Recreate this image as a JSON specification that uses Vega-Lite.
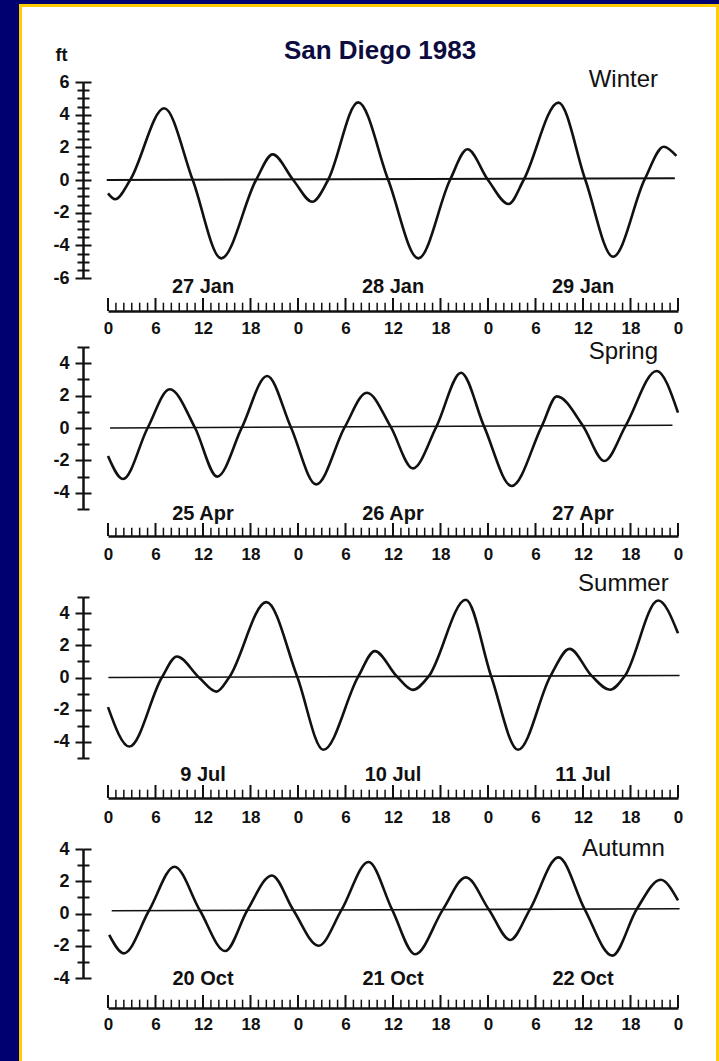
{
"$schema": "https://vega.github.io/schema/vega-lite/v6.json",
"background": "#000070",
"padding": {"left": 19, "top": 3, "right": 0, "bottom": 0},
"autosize": {"type": "pad"},
"bounds": "flush",
"spacing": 30,
"config": {"font": "Liberation Sans", "view": {"stroke": null}, "axis": {"grid": false}},
"datasets": {
"hours": [{"h":0,"tick":"major"},{"h":1,"tick":"minor"},{"h":2,"tick":"minor"},{"h":3,"tick":"minor"},{"h":4,"tick":"minor"},{"h":5,"tick":"minor"},{"h":6,"tick":"major"},{"h":7,"tick":"minor"},{"h":8,"tick":"minor"},{"h":9,"tick":"minor"},{"h":10,"tick":"minor"},{"h":11,"tick":"minor"},{"h":12,"tick":"major"},{"h":13,"tick":"minor"},{"h":14,"tick":"minor"},{"h":15,"tick":"minor"},{"h":16,"tick":"minor"},{"h":17,"tick":"minor"},{"h":18,"tick":"major"},{"h":19,"tick":"minor"},{"h":20,"tick":"minor"},{"h":21,"tick":"minor"},{"h":22,"tick":"minor"},{"h":23,"tick":"minor"},{"h":24,"tick":"major"},{"h":25,"tick":"minor"},{"h":26,"tick":"minor"},{"h":27,"tick":"minor"},{"h":28,"tick":"minor"},{"h":29,"tick":"minor"},{"h":30,"tick":"major"},{"h":31,"tick":"minor"},{"h":32,"tick":"minor"},{"h":33,"tick":"minor"},{"h":34,"tick":"minor"},{"h":35,"tick":"minor"},{"h":36,"tick":"major"},{"h":37,"tick":"minor"},{"h":38,"tick":"minor"},{"h":39,"tick":"minor"},{"h":40,"tick":"minor"},{"h":41,"tick":"minor"},{"h":42,"tick":"major"},{"h":43,"tick":"minor"},{"h":44,"tick":"minor"},{"h":45,"tick":"minor"},{"h":46,"tick":"minor"},{"h":47,"tick":"minor"},{"h":48,"tick":"major"},{"h":49,"tick":"minor"},{"h":50,"tick":"minor"},{"h":51,"tick":"minor"},{"h":52,"tick":"minor"},{"h":53,"tick":"minor"},{"h":54,"tick":"major"},{"h":55,"tick":"minor"},{"h":56,"tick":"minor"},{"h":57,"tick":"minor"},{"h":58,"tick":"minor"},{"h":59,"tick":"minor"},{"h":60,"tick":"major"},{"h":61,"tick":"minor"},{"h":62,"tick":"minor"},{"h":63,"tick":"minor"},{"h":64,"tick":"minor"},{"h":65,"tick":"minor"},{"h":66,"tick":"major"},{"h":67,"tick":"minor"},{"h":68,"tick":"minor"},{"h":69,"tick":"minor"},{"h":70,"tick":"minor"},{"h":71,"tick":"minor"},{"h":72,"tick":"major"}],
"days": [{"s":"W","h":12,"label":"27 Jan"},{"s":"W","h":36,"label":"28 Jan"},{"s":"W","h":60,"label":"29 Jan"},{"s":"Sp","h":12,"label":"25 Apr"},{"s":"Sp","h":36,"label":"26 Apr"},{"s":"Sp","h":60,"label":"27 Apr"},{"s":"Su","h":12,"label":"9 Jul"},{"s":"Su","h":36,"label":"10 Jul"},{"s":"Su","h":60,"label":"11 Jul"},{"s":"A","h":12,"label":"20 Oct"},{"s":"A","h":36,"label":"21 Oct"},{"s":"A","h":60,"label":"22 Oct"}],
"msl": [{"s":"W","h":-0.16,"v":0},{"s":"W","h":71.6,"v":0.1},{"s":"Sp","h":0.25,"v":0},{"s":"Sp","h":71.3,"v":0.17},{"s":"Su","h":0.05,"v":0},{"s":"Su","h":72.2,"v":0.12},{"s":"A","h":0.47,"v":0.17},{"s":"A","h":72.2,"v":0.29}],
"winter": [{"h":0,"v":-0.82},{"h":0.9,"v":-1.18},{"h":2.8,"v":0},{"h":7.1,"v":4.39},{"h":10.7,"v":0},{"h":14.3,"v":-4.8},{"h":18.7,"v":0},{"h":20.8,"v":1.57},{"h":23.4,"v":0},{"h":25.8,"v":-1.33},{"h":27.8,"v":0},{"h":31.6,"v":4.75},{"h":35.4,"v":0},{"h":39.2,"v":-4.8},{"h":43.2,"v":0},{"h":45.4,"v":1.88},{"h":48.0,"v":0},{"h":50.6,"v":-1.47},{"h":52.5,"v":0},{"h":56.9,"v":4.74},{"h":60.3,"v":0},{"h":63.8,"v":-4.7},{"h":67.8,"v":0.05},{"h":70.2,"v":2.04},{"h":71.8,"v":1.47}],
"spring": [{"h":0,"v":-1.73},{"h":1.9,"v":-3.15},{"h":5.0,"v":0},{"h":7.8,"v":2.39},{"h":11.0,"v":0},{"h":13.8,"v":-3.0},{"h":16.9,"v":0.02},{"h":20.1,"v":3.21},{"h":23.1,"v":0.05},{"h":26.3,"v":-3.48},{"h":29.9,"v":0.05},{"h":32.7,"v":2.18},{"h":35.7,"v":0.08},{"h":38.5,"v":-2.49},{"h":41.5,"v":0.1},{"h":44.6,"v":3.41},{"h":47.5,"v":0.1},{"h":51.0,"v":-3.58},{"h":54.8,"v":0.12},{"h":56.7,"v":1.95},{"h":60.0,"v":0.13},{"h":62.7,"v":-2.04},{"h":65.4,"v":0.15},{"h":69.3,"v":3.52},{"h":72,"v":0.95}],
"summer": [{"h":0,"v":-1.84},{"h":2.7,"v":-4.29},{"h":6.8,"v":0},{"h":8.7,"v":1.3},{"h":11.5,"v":0},{"h":13.7,"v":-0.88},{"h":15.3,"v":0},{"h":20.0,"v":4.68},{"h":23.9,"v":0.05},{"h":27.2,"v":-4.49},{"h":31.6,"v":0.05},{"h":33.7,"v":1.64},{"h":36.5,"v":0.06},{"h":38.5,"v":-0.77},{"h":40.5,"v":0.07},{"h":45.2,"v":4.83},{"h":48.4,"v":0.08},{"h":51.8,"v":-4.49},{"h":55.9,"v":0.1},{"h":58.3,"v":1.78},{"h":61.1,"v":0.1},{"h":63.4,"v":-0.76},{"h":65.3,"v":0.11},{"h":69.5,"v":4.78},{"h":72,"v":2.75}],
"autumn": [{"h":0.15,"v":-1.33},{"h":2.0,"v":-2.47},{"h":5.2,"v":0.2},{"h":8.4,"v":2.9},{"h":11.6,"v":0.2},{"h":14.8,"v":-2.33},{"h":17.6,"v":0.2},{"h":20.7,"v":2.36},{"h":23.4,"v":0.22},{"h":26.6,"v":-2.0},{"h":29.5,"v":0.22},{"h":32.9,"v":3.19},{"h":35.9,"v":0.23},{"h":38.8,"v":-2.53},{"h":42.3,"v":0.24},{"h":45.2,"v":2.24},{"h":48.1,"v":0.25},{"h":50.8,"v":-1.64},{"h":53.3,"v":0.26},{"h":56.9,"v":3.48},{"h":60.2,"v":0.27},{"h":63.7,"v":-2.61},{"h":66.8,"v":0.28},{"h":69.8,"v":2.09},{"h":72,"v":0.82}]
},
"vconcat": [
{
 "width": 570, "height": 229,
 "resolve": {"scale": {"y": "independent"}},
 "layer": [
  {
   "resolve": {"axis": {"y": "independent"}},
   "layer": [
    {"data": {"values": [{}]}, "mark": {"type": "rect", "color": "#ffcc00"},
     "encoding": {"x": {"datum": -11.242, "type": "quantitative", "scale": {"domain": [0,72], "nice": false, "zero": false}, "axis": {"orient": "bottom", "values": [0,6,12,18,24,30,36,42,48,54,60,66,72], "labelExpr": "'' + (datum.value % 24)", "labelFlush": false, "labelOverlap": false, "labelFontSize": 17, "labelFontWeight": "bold", "labelColor": "#111111", "labelBaseline": "top", "labelPadding": 9, "ticks": false, "tickSize": 0, "domain": true, "domainColor": "#111111", "domainWidth": 2.5, "title": null, "zindex": 1}}, "x2": {"datum": 77.18},
                  "y": {"datum": 10.776, "type": "quantitative", "scale": {"domain": [-6,6], "range": [196,0], "nice": false, "zero": false}, "axis": null}, "y2": {"datum": -54.0}}},
    {"data": {"values": [{}]}, "mark": {"type": "rect", "color": "#ffffff"},
     "encoding": {"x": {"datum": -10.863, "type": "quantitative", "scale": {"domain": [0,72], "nice": false, "zero": false}, "axis": {"orient": "bottom", "values": [0,6,12,18,24,30,36,42,48,54,60,66,72], "labelExpr": "'' + (datum.value % 24)", "labelFlush": false, "labelOverlap": false, "labelFontSize": 17, "labelFontWeight": "bold", "labelColor": "#111111", "labelBaseline": "top", "labelPadding": 9, "ticks": false, "tickSize": 0, "domain": true, "domainColor": "#111111", "domainWidth": 2.5, "title": null, "zindex": 1}}, "x2": {"datum": 76.80},
                  "y": {"datum": 10.592, "type": "quantitative", "scale": {"domain": [-6,6], "range": [196,0], "nice": false, "zero": false}, "axis": null}, "y2": {"datum": -54.0}}},
    {"data": {"values": [{"t": "San Diego 1983"}]}, "mark": {"type": "text", "fontSize": 26, "fontWeight": "bold", "color": "#0c0c40"},
     "encoding": {"text": {"field": "t", "type": "nominal"},
                  "x": {"datum": 34.36, "type": "quantitative", "scale": {"domain": [0,72], "nice": false, "zero": false}, "axis": {"orient": "bottom", "values": [0,6,12,18,24,30,36,42,48,54,60,66,72], "labelExpr": "'' + (datum.value % 24)", "labelFlush": false, "labelOverlap": false, "labelFontSize": 17, "labelFontWeight": "bold", "labelColor": "#111111", "labelBaseline": "top", "labelPadding": 9, "ticks": false, "tickSize": 0, "domain": true, "domainColor": "#111111", "domainWidth": 2.5, "title": null, "zindex": 1}},
                  "y": {"datum": 7.90, "type": "quantitative", "scale": {"domain": [-6,6], "range": [196,0], "nice": false, "zero": false}, "axis": null}}},
    {"data": {"values": [{"t": "ft"}]}, "mark": {"type": "text", "fontSize": 18, "fontWeight": "bold", "color": "#111111"},
     "encoding": {"text": {"field": "t", "type": "nominal"},
                  "x": {"datum": -5.87, "type": "quantitative", "scale": {"domain": [0,72], "nice": false, "zero": false}, "axis": {"orient": "bottom", "values": [0,6,12,18,24,30,36,42,48,54,60,66,72], "labelExpr": "'' + (datum.value % 24)", "labelFlush": false, "labelOverlap": false, "labelFontSize": 17, "labelFontWeight": "bold", "labelColor": "#111111", "labelBaseline": "top", "labelPadding": 9, "ticks": false, "tickSize": 0, "domain": true, "domainColor": "#111111", "domainWidth": 2.5, "title": null, "zindex": 1}},
                  "y": {"datum": 7.62, "type": "quantitative", "scale": {"domain": [-6,6], "range": [196,0], "nice": false, "zero": false}, "axis": null}}},
    {"data": {"name": "msl"}, "transform": [{"filter": "datum.s == 'W'"}], "mark": {"type": "line", "color": "#111111", "strokeWidth": 2},
     "encoding": {"x": {"field": "h", "type": "quantitative", "scale": {"domain": [0,72], "nice": false, "zero": false}, "axis": {"orient": "bottom", "values": [0,6,12,18,24,30,36,42,48,54,60,66,72], "labelExpr": "'' + (datum.value % 24)", "labelFlush": false, "labelOverlap": false, "labelFontSize": 17, "labelFontWeight": "bold", "labelColor": "#111111", "labelBaseline": "top", "labelPadding": 9, "ticks": false, "tickSize": 0, "domain": true, "domainColor": "#111111", "domainWidth": 2.5, "title": null, "zindex": 1}},
                  "y": {"field": "v", "type": "quantitative", "scale": {"domain": [-6,6], "range": [196,0], "nice": false, "zero": false},
                        "axis": {"orient": "left", "offset": 25, "zindex": 1, "values": [-6,-5.5,-5,-4.5,-4,-3.5,-3,-2.5,-2,-1.5,-1,-0.5,0,0.5,1,1.5,2,2.5,3,3.5,4,4.5,5,5.5,6], "labels": false, "domain": false, "tickColor": "#111111", "tickWidth": 2, "tickSize": {"condition": {"test": "datum.value % 2 === 0", "value": -8}, "value": -6}, "title": null}}}},
    {"data": {"name": "winter"}, "mark": {"type": "line", "color": "#111111", "strokeWidth": 2.6, "interpolate": "monotone"},
     "encoding": {"x": {"field": "h", "type": "quantitative", "scale": {"domain": [0,72], "nice": false, "zero": false}, "axis": {"orient": "bottom", "values": [0,6,12,18,24,30,36,42,48,54,60,66,72], "labelExpr": "'' + (datum.value % 24)", "labelFlush": false, "labelOverlap": false, "labelFontSize": 17, "labelFontWeight": "bold", "labelColor": "#111111", "labelBaseline": "top", "labelPadding": 9, "ticks": false, "tickSize": 0, "domain": true, "domainColor": "#111111", "domainWidth": 2.5, "title": null, "zindex": 1}},
                  "y": {"field": "v", "type": "quantitative", "scale": {"domain": [-6,6], "range": [196,0], "nice": false, "zero": false},
                        "axis": {"orient": "left", "offset": 25, "zindex": 1, "values": [-6,-5.5,-5,-4.5,-4,-3.5,-3,-2.5,-2,-1.5,-1,-0.5,0,0.5,1,1.5,2,2.5,3,3.5,4,4.5,5,5.5,6], "labelExpr": "datum.value % 2 === 0 ? '' + datum.value : ''", "labelFontSize": 18, "labelFontWeight": "bold", "labelColor": "#111111", "labelPadding": 6, "labelOverlap": false, "labelBaseline": "middle", "domain": true, "domainColor": "#111111", "domainWidth": 2.5, "tickColor": "#111111", "tickWidth": 2, "tickSize": {"condition": {"test": "datum.value % 2 === 0", "value": 8}, "value": 6}, "title": null}}}},
    {"data": {"values": [{"t": "Winter"}]}, "mark": {"type": "text", "fontSize": 24, "color": "#111111"},
     "encoding": {"text": {"field": "t", "type": "nominal"},
                  "x": {"datum": 65.1, "type": "quantitative", "scale": {"domain": [0,72], "nice": false, "zero": false}, "axis": {"orient": "bottom", "values": [0,6,12,18,24,30,36,42,48,54,60,66,72], "labelExpr": "'' + (datum.value % 24)", "labelFlush": false, "labelOverlap": false, "labelFontSize": 17, "labelFontWeight": "bold", "labelColor": "#111111", "labelBaseline": "top", "labelPadding": 9, "ticks": false, "tickSize": 0, "domain": true, "domainColor": "#111111", "domainWidth": 2.5, "title": null, "zindex": 1}},
                  "y": {"datum": 6.10, "type": "quantitative", "scale": {"domain": [-6,6], "range": [196,0], "nice": false, "zero": false}, "axis": null}}}
   ]
  },
  {
   "layer": [
    {"data": {"name": "hours"}, "transform": [{"filter": "datum.tick == 'major'"}], "mark": {"type": "rule", "color": "#111111", "strokeWidth": 2},
     "encoding": {"x": {"field": "h", "type": "quantitative", "scale": {"domain": [0,72], "nice": false, "zero": false}, "axis": {"orient": "bottom", "values": [0,6,12,18,24,30,36,42,48,54,60,66,72], "labelExpr": "'' + (datum.value % 24)", "labelFlush": false, "labelOverlap": false, "labelFontSize": 17, "labelFontWeight": "bold", "labelColor": "#111111", "labelBaseline": "top", "labelPadding": 9, "ticks": false, "tickSize": 0, "domain": true, "domainColor": "#111111", "domainWidth": 2.5, "title": null, "zindex": 1}},
                  "y": {"datum": 0, "type": "quantitative", "scale": {"domain": [0,1], "range": [229,216], "nice": false, "zero": false}, "axis": null}, "y2": {"datum": 1}}},
    {"data": {"name": "hours"}, "transform": [{"filter": "datum.tick == 'minor'"}], "mark": {"type": "rule", "color": "#111111", "strokeWidth": 1.5},
     "encoding": {"x": {"field": "h", "type": "quantitative", "scale": {"domain": [0,72], "nice": false, "zero": false}, "axis": {"orient": "bottom", "values": [0,6,12,18,24,30,36,42,48,54,60,66,72], "labelExpr": "'' + (datum.value % 24)", "labelFlush": false, "labelOverlap": false, "labelFontSize": 17, "labelFontWeight": "bold", "labelColor": "#111111", "labelBaseline": "top", "labelPadding": 9, "ticks": false, "tickSize": 0, "domain": true, "domainColor": "#111111", "domainWidth": 2.5, "title": null, "zindex": 1}},
                  "y": {"datum": 0, "type": "quantitative", "scale": {"domain": [0,1], "range": [229,216], "nice": false, "zero": false}, "axis": null}, "y2": {"datum": 0.64}}},
    {"data": {"name": "days"}, "transform": [{"filter": "datum.s == 'W'"}], "mark": {"type": "text", "fontSize": 20, "fontWeight": "bold", "color": "#111111"},
     "encoding": {"text": {"field": "label", "type": "nominal"},
                  "x": {"field": "h", "type": "quantitative", "scale": {"domain": [0,72], "nice": false, "zero": false}, "axis": {"orient": "bottom", "values": [0,6,12,18,24,30,36,42,48,54,60,66,72], "labelExpr": "'' + (datum.value % 24)", "labelFlush": false, "labelOverlap": false, "labelFontSize": 17, "labelFontWeight": "bold", "labelColor": "#111111", "labelBaseline": "top", "labelPadding": 9, "ticks": false, "tickSize": 0, "domain": true, "domainColor": "#111111", "domainWidth": 2.5, "title": null, "zindex": 1}},
                  "y": {"datum": 1.85, "type": "quantitative", "scale": {"domain": [0,1], "range": [229,216], "nice": false, "zero": false}, "axis": null}}}
   ]
  }
 ]
},
{
 "width": 570, "height": 195,
 "resolve": {"scale": {"y": "independent"}},
 "layer": [
  {
   "resolve": {"axis": {"y": "independent"}},
   "layer": [
    {"data": {"name": "msl"}, "transform": [{"filter": "datum.s == 'Sp'"}], "mark": {"type": "line", "color": "#111111", "strokeWidth": 1.6},
     "encoding": {"x": {"field": "h", "type": "quantitative", "scale": {"domain": [0,72], "nice": false, "zero": false}, "axis": {"orient": "bottom", "values": [0,6,12,18,24,30,36,42,48,54,60,66,72], "labelExpr": "'' + (datum.value % 24)", "labelFlush": false, "labelOverlap": false, "labelFontSize": 17, "labelFontWeight": "bold", "labelColor": "#111111", "labelBaseline": "top", "labelPadding": 10, "ticks": false, "tickSize": 0, "domain": true, "domainColor": "#111111", "domainWidth": 2.5, "title": null, "zindex": 1}},
                  "y": {"field": "v", "type": "quantitative", "scale": {"domain": [-5,5], "range": [168,6], "nice": false, "zero": false},
                        "axis": {"orient": "left", "offset": 25, "zindex": 1, "values": [-5,-4,-3,-2,-1,0,1,2,3,4,5], "labels": false, "domain": false, "tickColor": "#111111", "tickWidth": 2, "tickSize": {"condition": {"test": "datum.value % 2 === 0", "value": -8}, "value": -6}, "title": null}}}},
    {"data": {"name": "spring"}, "mark": {"type": "line", "color": "#111111", "strokeWidth": 2.6, "interpolate": "monotone"},
     "encoding": {"x": {"field": "h", "type": "quantitative", "scale": {"domain": [0,72], "nice": false, "zero": false}, "axis": {"orient": "bottom", "values": [0,6,12,18,24,30,36,42,48,54,60,66,72], "labelExpr": "'' + (datum.value % 24)", "labelFlush": false, "labelOverlap": false, "labelFontSize": 17, "labelFontWeight": "bold", "labelColor": "#111111", "labelBaseline": "top", "labelPadding": 10, "ticks": false, "tickSize": 0, "domain": true, "domainColor": "#111111", "domainWidth": 2.5, "title": null, "zindex": 1}},
                  "y": {"field": "v", "type": "quantitative", "scale": {"domain": [-5,5], "range": [168,6], "nice": false, "zero": false},
                        "axis": {"orient": "left", "offset": 25, "zindex": 1, "values": [-5,-4,-3,-2,-1,0,1,2,3,4,5], "labelExpr": "datum.value % 2 === 0 ? '' + datum.value : ''", "labelFontSize": 18, "labelFontWeight": "bold", "labelColor": "#111111", "labelPadding": 6, "labelOverlap": false, "labelBaseline": "middle", "domain": true, "domainColor": "#111111", "domainWidth": 2.5, "tickColor": "#111111", "tickWidth": 2, "tickSize": {"condition": {"test": "datum.value % 2 === 0", "value": 8}, "value": 6}, "title": null}}}},
    {"data": {"values": [{"t": "Spring"}]}, "mark": {"type": "text", "fontSize": 24, "color": "#111111"},
     "encoding": {"text": {"field": "t", "type": "nominal"},
                  "x": {"datum": 65.1, "type": "quantitative", "scale": {"domain": [0,72], "nice": false, "zero": false}, "axis": {"orient": "bottom", "values": [0,6,12,18,24,30,36,42,48,54,60,66,72], "labelExpr": "'' + (datum.value % 24)", "labelFlush": false, "labelOverlap": false, "labelFontSize": 17, "labelFontWeight": "bold", "labelColor": "#111111", "labelBaseline": "top", "labelPadding": 10, "ticks": false, "tickSize": 0, "domain": true, "domainColor": "#111111", "domainWidth": 2.5, "title": null, "zindex": 1}},
                  "y": {"datum": 4.67, "type": "quantitative", "scale": {"domain": [-5,5], "range": [168,6], "nice": false, "zero": false}, "axis": null}}}
   ]
  },
  {
   "layer": [
    {"data": {"name": "hours"}, "transform": [{"filter": "datum.tick == 'major'"}], "mark": {"type": "rule", "color": "#111111", "strokeWidth": 2},
     "encoding": {"x": {"field": "h", "type": "quantitative", "scale": {"domain": [0,72], "nice": false, "zero": false}, "axis": {"orient": "bottom", "values": [0,6,12,18,24,30,36,42,48,54,60,66,72], "labelExpr": "'' + (datum.value % 24)", "labelFlush": false, "labelOverlap": false, "labelFontSize": 17, "labelFontWeight": "bold", "labelColor": "#111111", "labelBaseline": "top", "labelPadding": 10, "ticks": false, "tickSize": 0, "domain": true, "domainColor": "#111111", "domainWidth": 2.5, "title": null, "zindex": 1}},
                  "y": {"datum": 0, "type": "quantitative", "scale": {"domain": [0,1], "range": [195,182], "nice": false, "zero": false}, "axis": null}, "y2": {"datum": 1}}},
    {"data": {"name": "hours"}, "transform": [{"filter": "datum.tick == 'minor'"}], "mark": {"type": "rule", "color": "#111111", "strokeWidth": 1.5},
     "encoding": {"x": {"field": "h", "type": "quantitative", "scale": {"domain": [0,72], "nice": false, "zero": false}, "axis": {"orient": "bottom", "values": [0,6,12,18,24,30,36,42,48,54,60,66,72], "labelExpr": "'' + (datum.value % 24)", "labelFlush": false, "labelOverlap": false, "labelFontSize": 17, "labelFontWeight": "bold", "labelColor": "#111111", "labelBaseline": "top", "labelPadding": 10, "ticks": false, "tickSize": 0, "domain": true, "domainColor": "#111111", "domainWidth": 2.5, "title": null, "zindex": 1}},
                  "y": {"datum": 0, "type": "quantitative", "scale": {"domain": [0,1], "range": [195,182], "nice": false, "zero": false}, "axis": null}, "y2": {"datum": 0.64}}},
    {"data": {"name": "days"}, "transform": [{"filter": "datum.s == 'Sp'"}], "mark": {"type": "text", "fontSize": 20, "fontWeight": "bold", "color": "#111111"},
     "encoding": {"text": {"field": "label", "type": "nominal"},
                  "x": {"field": "h", "type": "quantitative", "scale": {"domain": [0,72], "nice": false, "zero": false}, "axis": {"orient": "bottom", "values": [0,6,12,18,24,30,36,42,48,54,60,66,72], "labelExpr": "'' + (datum.value % 24)", "labelFlush": false, "labelOverlap": false, "labelFontSize": 17, "labelFontWeight": "bold", "labelColor": "#111111", "labelBaseline": "top", "labelPadding": 10, "ticks": false, "tickSize": 0, "domain": true, "domainColor": "#111111", "domainWidth": 2.5, "title": null, "zindex": 1}},
                  "y": {"datum": 1.69, "type": "quantitative", "scale": {"domain": [0,1], "range": [195,182], "nice": false, "zero": false}, "axis": null}}}
   ]
  }
 ]
},
{
 "width": 570, "height": 232,
 "resolve": {"scale": {"y": "independent"}},
 "layer": [
  {
   "resolve": {"axis": {"y": "independent"}},
   "layer": [
    {"data": {"name": "msl"}, "transform": [{"filter": "datum.s == 'Su'"}], "mark": {"type": "line", "color": "#111111", "strokeWidth": 1.6},
     "encoding": {"x": {"field": "h", "type": "quantitative", "scale": {"domain": [0,72], "nice": false, "zero": false}, "axis": {"orient": "bottom", "values": [0,6,12,18,24,30,36,42,48,54,60,66,72], "labelExpr": "'' + (datum.value % 24)", "labelFlush": false, "labelOverlap": false, "labelFontSize": 17, "labelFontWeight": "bold", "labelColor": "#111111", "labelBaseline": "top", "labelPadding": 11, "ticks": false, "tickSize": 0, "domain": true, "domainColor": "#111111", "domainWidth": 2.5, "title": null, "zindex": 1}},
                  "y": {"field": "v", "type": "quantitative", "scale": {"domain": [-5,5], "range": [192,31], "nice": false, "zero": false},
                        "axis": {"orient": "left", "offset": 25, "zindex": 1, "values": [-5,-4,-3,-2,-1,0,1,2,3,4,5], "labels": false, "domain": false, "tickColor": "#111111", "tickWidth": 2, "tickSize": {"condition": {"test": "datum.value % 2 === 0", "value": -8}, "value": -6}, "title": null}}}},
    {"data": {"name": "summer"}, "mark": {"type": "line", "color": "#111111", "strokeWidth": 2.6, "interpolate": "monotone"},
     "encoding": {"x": {"field": "h", "type": "quantitative", "scale": {"domain": [0,72], "nice": false, "zero": false}, "axis": {"orient": "bottom", "values": [0,6,12,18,24,30,36,42,48,54,60,66,72], "labelExpr": "'' + (datum.value % 24)", "labelFlush": false, "labelOverlap": false, "labelFontSize": 17, "labelFontWeight": "bold", "labelColor": "#111111", "labelBaseline": "top", "labelPadding": 11, "ticks": false, "tickSize": 0, "domain": true, "domainColor": "#111111", "domainWidth": 2.5, "title": null, "zindex": 1}},
                  "y": {"field": "v", "type": "quantitative", "scale": {"domain": [-5,5], "range": [192,31], "nice": false, "zero": false},
                        "axis": {"orient": "left", "offset": 25, "zindex": 1, "values": [-5,-4,-3,-2,-1,0,1,2,3,4,5], "labelExpr": "datum.value % 2 === 0 ? '' + datum.value : ''", "labelFontSize": 18, "labelFontWeight": "bold", "labelColor": "#111111", "labelPadding": 6, "labelOverlap": false, "labelBaseline": "middle", "domain": true, "domainColor": "#111111", "domainWidth": 2.5, "tickColor": "#111111", "tickWidth": 2, "tickSize": {"condition": {"test": "datum.value % 2 === 0", "value": 8}, "value": 6}, "title": null}}}},
    {"data": {"values": [{"t": "Summer"}]}, "mark": {"type": "text", "fontSize": 24, "color": "#111111"},
     "encoding": {"text": {"field": "t", "type": "nominal"},
                  "x": {"datum": 65.1, "type": "quantitative", "scale": {"domain": [0,72], "nice": false, "zero": false}, "axis": {"orient": "bottom", "values": [0,6,12,18,24,30,36,42,48,54,60,66,72], "labelExpr": "'' + (datum.value % 24)", "labelFlush": false, "labelOverlap": false, "labelFontSize": 17, "labelFontWeight": "bold", "labelColor": "#111111", "labelBaseline": "top", "labelPadding": 11, "ticks": false, "tickSize": 0, "domain": true, "domainColor": "#111111", "domainWidth": 2.5, "title": null, "zindex": 1}},
                  "y": {"datum": 5.79, "type": "quantitative", "scale": {"domain": [-5,5], "range": [192,31], "nice": false, "zero": false}, "axis": null}}}
   ]
  },
  {
   "layer": [
    {"data": {"name": "hours"}, "transform": [{"filter": "datum.tick == 'major'"}], "mark": {"type": "rule", "color": "#111111", "strokeWidth": 2},
     "encoding": {"x": {"field": "h", "type": "quantitative", "scale": {"domain": [0,72], "nice": false, "zero": false}, "axis": {"orient": "bottom", "values": [0,6,12,18,24,30,36,42,48,54,60,66,72], "labelExpr": "'' + (datum.value % 24)", "labelFlush": false, "labelOverlap": false, "labelFontSize": 17, "labelFontWeight": "bold", "labelColor": "#111111", "labelBaseline": "top", "labelPadding": 11, "ticks": false, "tickSize": 0, "domain": true, "domainColor": "#111111", "domainWidth": 2.5, "title": null, "zindex": 1}},
                  "y": {"datum": 0, "type": "quantitative", "scale": {"domain": [0,1], "range": [232,219], "nice": false, "zero": false}, "axis": null}, "y2": {"datum": 1}}},
    {"data": {"name": "hours"}, "transform": [{"filter": "datum.tick == 'minor'"}], "mark": {"type": "rule", "color": "#111111", "strokeWidth": 1.5},
     "encoding": {"x": {"field": "h", "type": "quantitative", "scale": {"domain": [0,72], "nice": false, "zero": false}, "axis": {"orient": "bottom", "values": [0,6,12,18,24,30,36,42,48,54,60,66,72], "labelExpr": "'' + (datum.value % 24)", "labelFlush": false, "labelOverlap": false, "labelFontSize": 17, "labelFontWeight": "bold", "labelColor": "#111111", "labelBaseline": "top", "labelPadding": 11, "ticks": false, "tickSize": 0, "domain": true, "domainColor": "#111111", "domainWidth": 2.5, "title": null, "zindex": 1}},
                  "y": {"datum": 0, "type": "quantitative", "scale": {"domain": [0,1], "range": [232,219], "nice": false, "zero": false}, "axis": null}, "y2": {"datum": 0.64}}},
    {"data": {"name": "days"}, "transform": [{"filter": "datum.s == 'Su'"}], "mark": {"type": "text", "fontSize": 20, "fontWeight": "bold", "color": "#111111"},
     "encoding": {"text": {"field": "label", "type": "nominal"},
                  "x": {"field": "h", "type": "quantitative", "scale": {"domain": [0,72], "nice": false, "zero": false}, "axis": {"orient": "bottom", "values": [0,6,12,18,24,30,36,42,48,54,60,66,72], "labelExpr": "'' + (datum.value % 24)", "labelFlush": false, "labelOverlap": false, "labelFontSize": 17, "labelFontWeight": "bold", "labelColor": "#111111", "labelBaseline": "top", "labelPadding": 11, "ticks": false, "tickSize": 0, "domain": true, "domainColor": "#111111", "domainWidth": 2.5, "title": null, "zindex": 1}},
                  "y": {"datum": 1.77, "type": "quantitative", "scale": {"domain": [0,1], "range": [232,219], "nice": false, "zero": false}, "axis": null}}}
   ]
  }
 ]
},
{
 "width": 570, "height": 180,
 "resolve": {"scale": {"y": "independent"}},
 "layer": [
  {
   "resolve": {"axis": {"y": "independent"}},
   "layer": [
    {"data": {"name": "msl"}, "transform": [{"filter": "datum.s == 'A'"}], "mark": {"type": "line", "color": "#111111", "strokeWidth": 1.6},
     "encoding": {"x": {"field": "h", "type": "quantitative", "scale": {"domain": [0,72], "nice": false, "zero": false}, "axis": {"orient": "bottom", "values": [0,6,12,18,24,30,36,42,48,54,60,66,72], "labelExpr": "'' + (datum.value % 24)", "labelFlush": false, "labelOverlap": false, "labelFontSize": 17, "labelFontWeight": "bold", "labelColor": "#111111", "labelBaseline": "top", "labelPadding": 8, "ticks": false, "tickSize": 0, "domain": true, "domainColor": "#111111", "domainWidth": 2.5, "title": null, "zindex": 1}},
                  "y": {"field": "v", "type": "quantitative", "scale": {"domain": [-4,4], "range": [150,21], "nice": false, "zero": false},
                        "axis": {"orient": "left", "offset": 25, "zindex": 1, "values": [-4,-3,-2,-1,0,1,2,3,4], "labels": false, "domain": false, "tickColor": "#111111", "tickWidth": 2, "tickSize": {"condition": {"test": "datum.value % 2 === 0", "value": -8}, "value": -6}, "title": null}}}},
    {"data": {"name": "autumn"}, "mark": {"type": "line", "color": "#111111", "strokeWidth": 2.6, "interpolate": "monotone"},
     "encoding": {"x": {"field": "h", "type": "quantitative", "scale": {"domain": [0,72], "nice": false, "zero": false}, "axis": {"orient": "bottom", "values": [0,6,12,18,24,30,36,42,48,54,60,66,72], "labelExpr": "'' + (datum.value % 24)", "labelFlush": false, "labelOverlap": false, "labelFontSize": 17, "labelFontWeight": "bold", "labelColor": "#111111", "labelBaseline": "top", "labelPadding": 8, "ticks": false, "tickSize": 0, "domain": true, "domainColor": "#111111", "domainWidth": 2.5, "title": null, "zindex": 1}},
                  "y": {"field": "v", "type": "quantitative", "scale": {"domain": [-4,4], "range": [150,21], "nice": false, "zero": false},
                        "axis": {"orient": "left", "offset": 25, "zindex": 1, "values": [-4,-3,-2,-1,0,1,2,3,4], "labelExpr": "datum.value % 2 === 0 ? '' + datum.value : ''", "labelFontSize": 18, "labelFontWeight": "bold", "labelColor": "#111111", "labelPadding": 6, "labelOverlap": false, "labelBaseline": "middle", "domain": true, "domainColor": "#111111", "domainWidth": 2.5, "tickColor": "#111111", "tickWidth": 2, "tickSize": {"condition": {"test": "datum.value % 2 === 0", "value": 8}, "value": 6}, "title": null}}}},
    {"data": {"values": [{"t": "Autumn"}]}, "mark": {"type": "text", "fontSize": 24, "color": "#111111"},
     "encoding": {"text": {"field": "t", "type": "nominal"},
                  "x": {"datum": 65.1, "type": "quantitative", "scale": {"domain": [0,72], "nice": false, "zero": false}, "axis": {"orient": "bottom", "values": [0,6,12,18,24,30,36,42,48,54,60,66,72], "labelExpr": "'' + (datum.value % 24)", "labelFlush": false, "labelOverlap": false, "labelFontSize": 17, "labelFontWeight": "bold", "labelColor": "#111111", "labelBaseline": "top", "labelPadding": 8, "ticks": false, "tickSize": 0, "domain": true, "domainColor": "#111111", "domainWidth": 2.5, "title": null, "zindex": 1}},
                  "y": {"datum": 3.98, "type": "quantitative", "scale": {"domain": [-4,4], "range": [150,21], "nice": false, "zero": false}, "axis": null}}}
   ]
  },
  {
   "layer": [
    {"data": {"name": "hours"}, "transform": [{"filter": "datum.tick == 'major'"}], "mark": {"type": "rule", "color": "#111111", "strokeWidth": 2},
     "encoding": {"x": {"field": "h", "type": "quantitative", "scale": {"domain": [0,72], "nice": false, "zero": false}, "axis": {"orient": "bottom", "values": [0,6,12,18,24,30,36,42,48,54,60,66,72], "labelExpr": "'' + (datum.value % 24)", "labelFlush": false, "labelOverlap": false, "labelFontSize": 17, "labelFontWeight": "bold", "labelColor": "#111111", "labelBaseline": "top", "labelPadding": 8, "ticks": false, "tickSize": 0, "domain": true, "domainColor": "#111111", "domainWidth": 2.5, "title": null, "zindex": 1}},
                  "y": {"datum": 0, "type": "quantitative", "scale": {"domain": [0,1], "range": [180,167], "nice": false, "zero": false}, "axis": null}, "y2": {"datum": 1}}},
    {"data": {"name": "hours"}, "transform": [{"filter": "datum.tick == 'minor'"}], "mark": {"type": "rule", "color": "#111111", "strokeWidth": 1.5},
     "encoding": {"x": {"field": "h", "type": "quantitative", "scale": {"domain": [0,72], "nice": false, "zero": false}, "axis": {"orient": "bottom", "values": [0,6,12,18,24,30,36,42,48,54,60,66,72], "labelExpr": "'' + (datum.value % 24)", "labelFlush": false, "labelOverlap": false, "labelFontSize": 17, "labelFontWeight": "bold", "labelColor": "#111111", "labelBaseline": "top", "labelPadding": 8, "ticks": false, "tickSize": 0, "domain": true, "domainColor": "#111111", "domainWidth": 2.5, "title": null, "zindex": 1}},
                  "y": {"datum": 0, "type": "quantitative", "scale": {"domain": [0,1], "range": [180,167], "nice": false, "zero": false}, "axis": null}, "y2": {"datum": 0.64}}},
    {"data": {"name": "days"}, "transform": [{"filter": "datum.s == 'A'"}], "mark": {"type": "text", "fontSize": 20, "fontWeight": "bold", "color": "#111111"},
     "encoding": {"text": {"field": "label", "type": "nominal"},
                  "x": {"field": "h", "type": "quantitative", "scale": {"domain": [0,72], "nice": false, "zero": false}, "axis": {"orient": "bottom", "values": [0,6,12,18,24,30,36,42,48,54,60,66,72], "labelExpr": "'' + (datum.value % 24)", "labelFlush": false, "labelOverlap": false, "labelFontSize": 17, "labelFontWeight": "bold", "labelColor": "#111111", "labelBaseline": "top", "labelPadding": 8, "ticks": false, "tickSize": 0, "domain": true, "domainColor": "#111111", "domainWidth": 2.5, "title": null, "zindex": 1}},
                  "y": {"datum": 2.23, "type": "quantitative", "scale": {"domain": [0,1], "range": [180,167], "nice": false, "zero": false}, "axis": null}}}
   ]
  }
 ]
}
]
}
